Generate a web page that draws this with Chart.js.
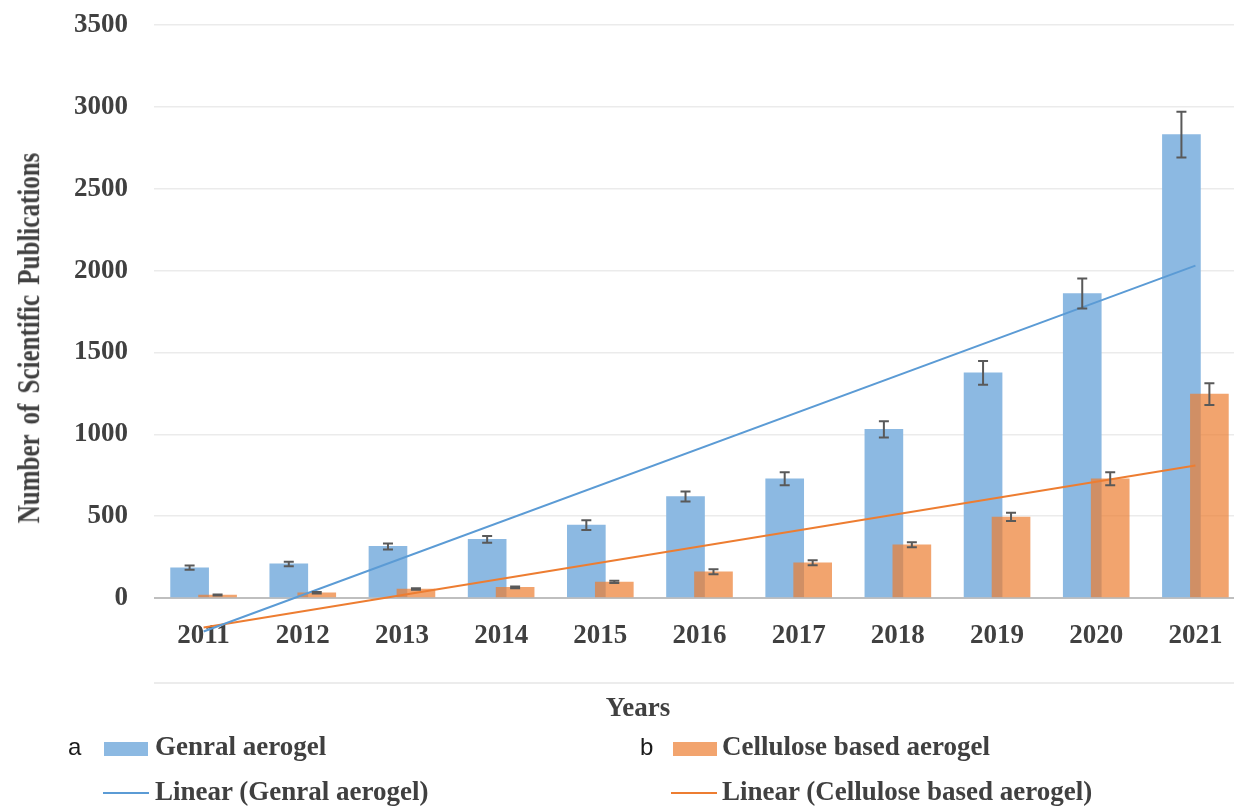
<!DOCTYPE html>
<html>
<head>
<meta charset="utf-8">
<script src="https://cdn.jsdelivr.net/npm/chart.js@4.4.0/dist/chart.umd.min.js"></script>
<style>
  html, body { margin: 0; padding: 0; background: #fff; }
  #wrap { position: relative; width: 1234px; height: 807px; overflow: hidden; }
  #chart { position: absolute; left: 0; top: 0; }
  .t { position: absolute; font-family: 'Liberation Serif', serif; font-weight: bold; color: #404040; white-space: nowrap; font-size: 27px; line-height: 27px; }
  .ab { position: absolute; font-family: 'Liberation Sans', sans-serif; color: #1a1a1a; font-size: 24px; line-height: 24px; }
  .sw { position: absolute; width: 44px; height: 14px; }
  .ln { position: absolute; width: 46px; height: 2px; }
  #ytitle { left: 28px; top: 338px; font-size: 25px; line-height: 25px; word-spacing: 4px; transform: translate(-50%, -50%) rotate(-90deg) scaleY(1.25); }
  #xtitle { left: 638px; top: 694px; transform: translateX(-50%); }
</style>
</head>
<body>
<div id="wrap">
  <canvas id="chart" width="1245" height="807"></canvas>
  <div class="t" id="ytitle">Number of Scientific Publications</div>
  <div class="t" id="xtitle">Years</div>

  <div class="ab" style="left:68px;top:735px">a</div>
  <div class="sw" style="left:104px;top:742px;background:#8cb9e2"></div>
  <div class="t" style="left:155px;top:733px">Genral aerogel</div>
  <div class="ln" style="left:103px;top:792px;background:#5b9bd5"></div>
  <div class="t" style="left:155px;top:778px">Linear (Genral aerogel)</div>

  <div class="ab" style="left:640px;top:735px">b</div>
  <div class="sw" style="left:673px;top:742px;background:rgba(237,125,49,0.7)"></div>
  <div class="t" style="left:722px;top:733px">Cellulose based aerogel</div>
  <div class="ln" style="left:671px;top:792px;background:#ed7d31"></div>
  <div class="t" style="left:722px;top:778px">Linear (Cellulose based aerogel)</div>
</div>
<script>
// values
const years = ['2011', '2012', '2013', '2014', '2015', '2016', '2017', '2018', '2019', '2020', '2021'];
const generalAerogel = [185, 208, 315, 358, 445, 620, 728, 1030, 1375, 1860, 2830];
const generalError = [13, 14, 18, 20, 30, 30, 40, 49, 72, 92, 140];
const celluloseAerogel = [18, 32, 55, 65, 98, 160, 215, 325, 495, 728, 1245];
const celluloseError = [3, 4, 5, 6, 7, 15, 15, 15, 25, 40, 66];
// Excel linear trendlines, end points
const trendYears = ['2011', '2021'];
const generalTrend = [-205, 2030];
const celluloseTrend = [-180, 810];
const yTicks = [0, 500, 1000, 1500, 2000, 2500, 3000, 3500];

const barShift = 0.141; // how far each bar sits off the year centre (in years)
const firstYear = Number(years[0]);
const lastYear = Number(years[years.length - 1]);

const errorBars = {
  id: 'errorBars',
  beforeDatasetsDraw(chart) {
    // faint rule under the year labels
    const { ctx, chartArea } = chart;
    ctx.save();
    ctx.strokeStyle = '#ececec';
    ctx.lineWidth = 2;
    ctx.beginPath();
    ctx.moveTo(chartArea.left, chartArea.bottom + 85);
    ctx.lineTo(chartArea.right, chartArea.bottom + 85);
    ctx.stroke();
    ctx.restore();
  },
  afterDatasetsDraw(chart) {
    const ctx = chart.ctx;
    const y = chart.scales.y;
    ctx.save();
    ctx.strokeStyle = '#595959';
    ctx.lineWidth = 2;
    chart.data.datasets.forEach((ds, i) => {
      if (!ds.errors) return;
      const meta = chart.getDatasetMeta(i);
      meta.data.forEach((bar, j) => {
        const v = ds.data[j].y;
        const e = ds.errors[j];
        const top = y.getPixelForValue(v + e);
        const bot = y.getPixelForValue(v - e);
        ctx.beginPath();
        ctx.moveTo(bar.x, top); ctx.lineTo(bar.x, bot);
        ctx.moveTo(bar.x - 5, top); ctx.lineTo(bar.x + 5, top);
        ctx.moveTo(bar.x - 5, bot); ctx.lineTo(bar.x + 5, bot);
        ctx.stroke();
      });
    });
    ctx.restore();
  }
};

Chart.defaults.font.family = "'Liberation Serif', serif";
Chart.defaults.color = '#404040';

new Chart(document.getElementById('chart'), {
  data: {
    labels: years,
    datasets: [
      {
        type: 'line',
        label: 'Linear (Genral aerogel)',
        data: trendYears.map((yr, i) => ({ x: yr, y: generalTrend[i] })),
        xAxisID: 'x',
        borderColor: '#5b9bd5',
        borderWidth: 2,
        pointRadius: 0,
        clip: false,
        order: 0
      },
      {
        type: 'line',
        label: 'Linear (Cellulose based aerogel)',
        data: trendYears.map((yr, i) => ({ x: yr, y: celluloseTrend[i] })),
        xAxisID: 'x',
        borderColor: '#ed7d31',
        borderWidth: 2,
        pointRadius: 0,
        clip: false,
        order: 0
      },
      {
        type: 'bar',
        label: 'Genral aerogel',
        data: years.map((yr, i) => ({ x: Number(yr), y: generalAerogel[i] })),
        errors: generalError,
        xAxisID: 'xb',
        backgroundColor: '#8cb9e2',
        barThickness: 38,
        grouped: false,
        order: 2
      },
      {
        type: 'bar',
        label: 'Cellulose based aerogel',
        data: years.map((yr, i) => ({ x: Number(yr), y: celluloseAerogel[i] })),
        errors: celluloseError,
        xAxisID: 'xo',
        backgroundColor: 'rgba(237,125,49,0.7)',
        barThickness: 38,
        grouped: false,
        order: 1
      }
    ]
  },
  options: {
    responsive: false,
    animation: false,
    devicePixelRatio: 1,
    layout: { padding: { top: 25, right: 0, left: 0, bottom: 0 } },
    plugins: { legend: { display: false }, tooltip: { enabled: false } },
    scales: {
      x: {
        type: 'category',
        offset: true,
        grid: { display: false },
        border: { display: false },
        ticks: { font: { size: 27, weight: 'bold' }, padding: 14 },
        afterFit: (s) => { s.height = 209; }
      },
      xb: {
        type: 'linear', display: false, offset: false,
        min: firstYear - 0.5 + barShift, max: lastYear + 0.5 + barShift
      },
      xo: {
        type: 'linear', display: false, offset: false,
        min: firstYear - 0.5 - barShift, max: lastYear + 0.5 - barShift
      },
      y: {
        min: yTicks[0],
        max: yTicks[yTicks.length - 1],
        afterBuildTicks: (s) => { s.ticks = yTicks.map(v => ({ value: v })); },
        grid: {
          drawTicks: false,
          color: (c) => c.tick && c.tick.value === 0 ? '#bfbfbf' : '#ebebeb',
          lineWidth: (c) => c.tick && c.tick.value === 0 ? 2 : 1.5
        },
        border: { display: false },
        ticks: {
          font: { size: 27, weight: 'bold' },
          padding: 26,
          callback: (v) => String(v)
        },
        afterFit: (s) => { s.width = 154; s.paddingTop = 0; s.paddingBottom = 0; }
      }
    }
  },
  plugins: [errorBars]
});
</script>
</body>
</html>
